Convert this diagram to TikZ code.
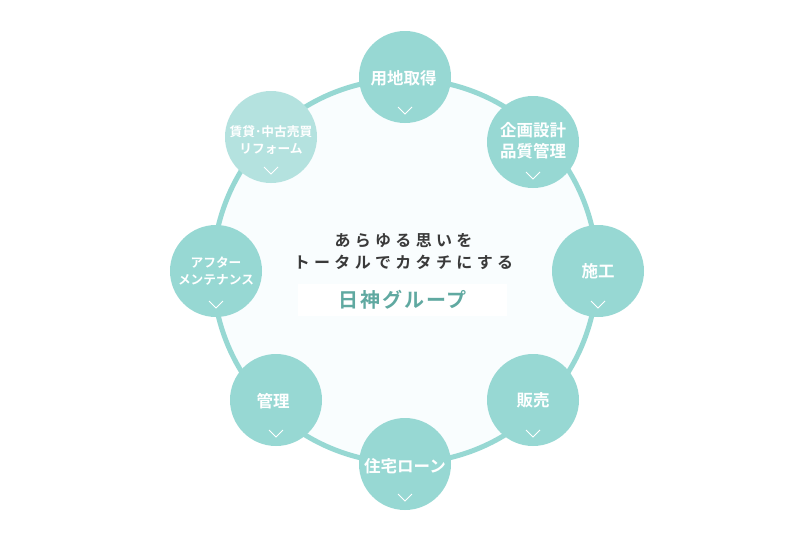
\documentclass[tikz,border=0pt]{standalone}
\usepackage{fontspec}
\setmainfont{Noto Sans CJK JP}[BoldFont={Noto Sans CJK JP Bold}]
\definecolor{ringgreen}{HTML}{97D8D3}
\definecolor{palegreen}{HTML}{B4E2DF}
\definecolor{ringfill}{HTML}{F9FDFE}
\definecolor{titlegreen}{HTML}{60A9A1}
\definecolor{leadgray}{HTML}{3A3A3A}
\tikzset{
    stage/.style={circle, fill=ringgreen, minimum size=92pt, inner sep=0pt},
    stagetext/.style={text=white, align=center, font=\fontsize{16.5}{21}\selectfont\bfseries},
    smalltext/.style={stagetext, font=\fontsize{12.7}{17}\selectfont\bfseries},
    leadline/.style={text=leadgray, align=center,
        font=\fontsize{16}{22}\selectfont\bfseries\addfontfeatures{LetterSpace=27}},
    chevron/.style={draw=white, line width=0.8pt}
}
\begin{document}
\begin{tikzpicture}[x=1pt,y=-1pt]
    \useasboundingbox (0,0) rectangle (800,533);
    \fill[white] (0,0) rectangle (800,533);

    \node[circle, draw=ringgreen, fill=ringfill, line width=5pt, minimum size=384pt, inner sep=0pt] (ring) at (405,271) {};

    \node[stage] (land) at (405,77) {};
    \node[stage] (design) at (533,142) {};
    \node[stage] (build) at (598,271) {};
    \node[stage] (sale) at (533,400) {};
    \node[stage] (loan) at (405,464) {};
    \node[stage] (manage) at (276,400) {};
    \node[stage] (after) at (216,271) {};
    \node[stage, fill=palegreen] (resale) at (271,137) {};

    \node[stagetext] (landtext) at (403.5,78) {用地取得};
    \node[stagetext] (designtext) at (533,141) {企画設計\\品質管理};
    \node[stagetext] (buildtext) at (598,271) {施工};
    \node[stagetext] (saletext) at (533,400) {販売};
    \node[stagetext] (loantext) at (405,466) {住宅ローン};
    \node[stagetext] (managetext) at (273,401) {管理};
    \node[smalltext] (aftertext) at (216,271) {アフター\\メンテナンス};
    \node[smalltext] (resaletext) at (271,140) {賃貸･中古売買\\リフォーム};

    \foreach \n in {land,design,build,sale,loan,manage,after,resale}
        \draw[chevron] ([shift={(-7,30)}]\n.center) -- ([shift={(0,37)}]\n.center) -- ([shift={(7,30)}]\n.center);

    \node[leadline] (lead) at (403.5,252) {あらゆる思いを\\トータルでカタチにする};

    \node[fill=white, minimum width=209pt, minimum height=32pt, inner sep=0pt, text=titlegreen,
        font=\fontsize{20}{22}\selectfont\bfseries\addfontfeatures{LetterSpace=10}] (group) at (402.5,300) {日神グループ};
\end{tikzpicture}
\end{document}
